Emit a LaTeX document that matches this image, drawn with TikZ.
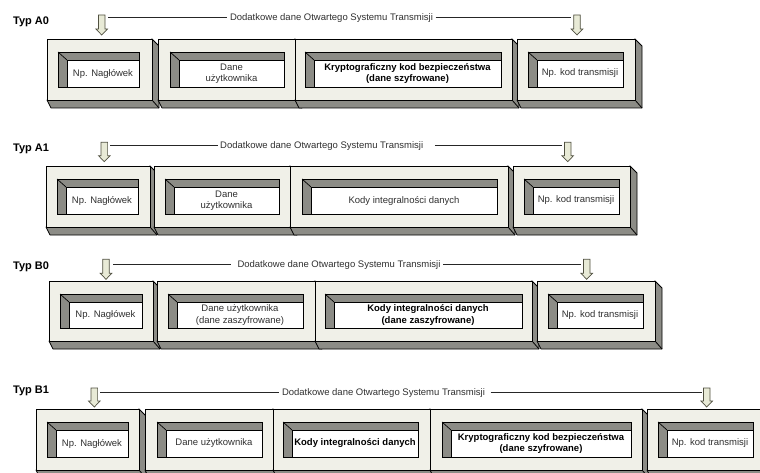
\documentclass[tikz,border=0pt]{standalone}
\usepackage{fontspec}
\setmainfont{Liberation Sans}
\definecolor{facec}{RGB}{240,240,232}
\definecolor{depthc}{RGB}{140,140,134}
\definecolor{stripc}{RGB}{140,140,134}
\definecolor{arrowf}{RGB}{232,234,214}
\definecolor{arrowd}{RGB}{80,80,64}
\definecolor{txtc}{RGB}{48,48,48}
\tikzset{
 segface/.style={fill=facec, draw=black, line width=0.8pt},
 segdepth/.style={fill=depthc, draw=black, line width=0.8pt, line join=round},
 winframe/.style={fill=stripc, draw=black, line width=0.7pt},
 winwhite/.style={fill=white, draw=black, line width=0.7pt},
 plaintxt/.style={font=\fontsize{9.5}{11.5}\selectfont, text=txtc, align=center, inner sep=0pt},
 boldtxt/.style={font=\bfseries\fontsize{9.5}{11.5}\selectfont, text=black, align=center, inner sep=0pt},
 typlabel/.style={font=\bfseries\fontsize{11}{13}\selectfont, anchor=base west, inner sep=0pt},
 hdrtxt/.style={font=\fontsize{9.5}{11.5}\selectfont, text=txtc, anchor=base, inner sep=2.5pt},
 hdrline/.style={draw=black!85, line width=0.8pt},
 downarrow/.style={fill=arrowf, draw=arrowd, line width=0.7pt},
}
% #1 name, #2 x1, #3 x2, #4 y1, #5 y2, #6 wx1, #7 wx2, #8 style, #9 text
\newcommand\seg[9]{%
 \pgfmathsetmacro\sya{#4+13}%
 \pgfmathsetmacro\syb{#5-13}%
 \pgfmathsetmacro\sxi{#6+9}%
 \pgfmathsetmacro\syi{#4+21}%
 \filldraw[segdepth] (#3,#4) -- (#3+7,#4+7) -- (#3+7,#5+8) -- (#2+4,#5+8) -- (#2,#5) -- cycle;
 \draw[segdepth, fill=none] (#3,#5) -- (#3+7,#5+8);
 \filldraw[segface] (#2,#4) rectangle (#3,#5);
 \filldraw[winframe] (#6,\sya) rectangle (#7,\syb);
 \filldraw[winwhite] (\sxi,\syi) rectangle (#7,\syb);
 \draw[winframe, fill=none] (#6,\sya) -- (\sxi,\syi);
 \node[#8] (#1) at ({(\sxi+#7)/2},{(\syi+\syb)/2}) {#9};
}
% #1 x, #2 ytop, #3 ytip
\newcommand\darr[3]{%
 \filldraw[downarrow] (#1-3.3,#2) -- (#1+3.3,#2) -- (#1+3.3,#3-6) -- (#1+5.8,#3-6) -- (#1,#3) -- (#1-5.8,#3-6) -- (#1-3.3,#3-6) -- cycle;}
\begin{document}
\begin{tikzpicture}[x=1pt,y=-1pt]
\path[use as bounding box] (0,0) rectangle (760,473);
\clip (0,0) rectangle (760,473);
\fill[white] (0,0) rectangle (760,473);

% ---------- Typ A0 ----------
\node[typlabel] (labA0) at (13,25) {Typ A0};
\darr{101.7}{15}{35}
\darr{577}{15}{35}
\coordinate (a0l) at (108,17.7);
\coordinate (a0r) at (571,17.7);
\node[hdrtxt] (a0h) at (331.5,20.9) {Dodatkowe dane Otwartego Systemu Transmisji};
\draw[hdrline] (a0l) -- (a0l -| a0h.west);
\draw[hdrline] (a0l -| a0h.east) -- (a0r);
\seg{a0s1}{47}{152}{39}{100}{58}{139}{plaintxt}{Np. Nagłówek}
\seg{a0s2}{158}{295}{39}{100}{170}{284}{plaintxt}{Dane\\użytkownika}
\seg{a0s3}{295}{512}{39}{100}{305}{501}{boldtxt}{Kryptograficzny kod bezpieczeństwa\\(dane szyfrowane)}
\seg{a0s4}{517}{635}{39}{100}{528}{623}{plaintxt}{Np. kod transmisji}

% ---------- Typ A1 ----------
\node[typlabel] (labA1) at (13,151.7) {Typ A1};
\darr{104.3}{142.3}{161.7}
\darr{567.7}{142.3}{161.7}
\coordinate (a1l) at (110,145.7);
\coordinate (a1r) at (562,145.7);
\node[hdrtxt] (a1h) at (321.7,148.9) {Dodatkowe dane Otwartego Systemu Transmisji};
\draw[hdrline] (a1l) -- (a1l -| a1h.west);
\draw[hdrline] ([xshift=9pt]a1l -| a1h.east) -- (a1r);
\seg{a1s1}{46}{150}{166}{227}{57}{138}{plaintxt}{Np. Nagłówek}
\seg{a1s2}{154}{290}{166}{227}{165}{279}{plaintxt}{Dane\\użytkownika}
\seg{a1s3}{290}{508}{166}{227}{302}{497}{plaintxt}{Kody integralności danych}
\seg{a1s4}{513}{630}{166}{227}{524}{619}{plaintxt}{Np. kod transmisji}

% ---------- Typ B0 ----------
\node[typlabel] (labB0) at (13,269) {Typ B0};
\darr{106}{259.3}{279.3}
\darr{586.7}{259.3}{279.3}
\coordinate (b0l) at (113,264);
\coordinate (b0r) at (581,264);
\node[hdrtxt] (b0h) at (339,267.2) {Dodatkowe dane Otwartego Systemu Transmisji};
\draw[hdrline] (b0l) -- ([xshift=-4pt]b0l -| b0h.west);
\draw[hdrline] (b0l -| b0h.east) -- (b0r);
\seg{b0s1}{49}{153}{281}{341}{60}{142}{plaintxt}{Np. Nagłówek}
\seg{b0s2}{157}{315}{281}{341}{168}{303}{plaintxt}{Dane użytkownika\\(dane zaszyfrowane)}
\seg{b0s3}{315}{532}{281}{341}{325}{522}{boldtxt}{Kody integralności danych\\(dane zaszyfrowane)}
\seg{b0s4}{537}{655}{281}{341}{548}{643}{plaintxt}{Np. kod transmisji}

% ---------- Typ B1 ----------
\node[typlabel] (labB1) at (13,393.3) {Typ B1};
\darr{94.3}{388}{407}
\darr{706.7}{388}{407}
\coordinate (b1l) at (100,392.3);
\coordinate (b1r) at (701.7,392.3);
\node[hdrtxt] (b1h) at (383.5,395.5) {Dodatkowe dane Otwartego Systemu Transmisji};
\draw[hdrline] (b1l) -- (b1l -| b1h.west);
\draw[hdrline] ([xshift=3pt]b1l -| b1h.east) -- (b1r);
\seg{b1s1}{36}{139}{409}{470}{47}{128}{plaintxt}{Np. Nagłówek}
\seg{b1s2}{145}{273}{409}{470}{157}{262}{plaintxt}{Dane użytkownika}
\seg{b1s3}{273}{430}{409}{470}{283}{418}{boldtxt}{Kody integralności danych}
\seg{b1s4}{430}{642}{409}{470}{442}{631}{boldtxt}{Kryptograficzny kod bezpieczeństwa\\(dane szyfrowane)}
\seg{b1s5}{647}{766}{409}{470}{658}{753}{plaintxt}{Np. kod transmisji}
\end{tikzpicture}
\end{document}
